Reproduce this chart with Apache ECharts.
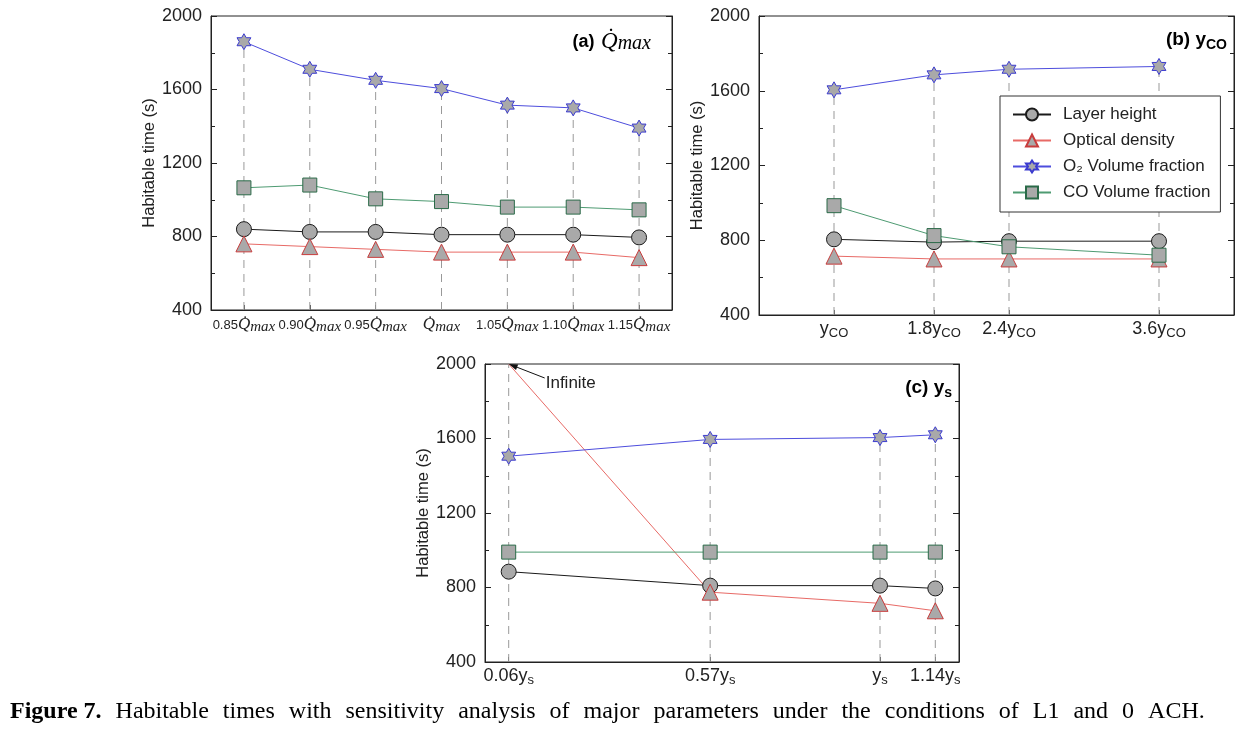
<!DOCTYPE html>
<html><head><meta charset="utf-8">
<script src="https://cdn.jsdelivr.net/npm/echarts@6/dist/echarts.min.js"></script>
<style>html,body{margin:0;padding:0;background:#fff}#c{width:1254px;height:730px}</style>
</head><body><div id="c"></div>
<script>
// ---------- data ----------
// Panel (a): Qmax
const catsA = ['0.85', '0.90', '0.95', '', '1.05', '1.10', '1.15'];
const layerA   = [840, 825, 825, 810, 810, 810, 795];
const opticalA = [760, 745, 730, 715, 715, 715, 685];
const o2A      = [1860, 1710, 1650, 1605, 1515, 1500, 1390];
const coA      = [1065, 1080, 1005, 990, 960, 960, 945];
// Panel (b): yCO
const xsB     = [1, 1.8, 2.4, 3.6];
const labelsB = ['', '1.8', '2.4', '3.6'];
const layerB   = [805, 790, 795, 795];
const opticalB = [715, 700, 700, 700];
const o2B      = [1605, 1685, 1715, 1730];
const coB      = [985, 825, 765, 720];
// Panel (c): ys
const xsC     = [0.06, 0.57, 1, 1.14];
const labelsC = ['0.06', '0.57', '', '1.14'];
const layerC   = [885, 810, 810, 795];
const opticalC = [2000, 775, 715, 675];   // first point: "Infinite"
const o2C      = [1505, 1595, 1605, 1620];
const coC      = [990, 990, 990, 990];
// y axis
const yMin = 400, yMax = 2000, yStep = 400;
const seriesNames = ['Layer height', 'Optical density', 'O\u2082 Volume fraction', 'CO Volume fraction'];
const captionBold = 'Figure 7.';
const captionText = 'Habitable times with sensitivity analysis of major parameters under the conditions of L1 and 0 ACH.';

// ---------- styles ----------
const SANS = '"Liberation Sans", Arial, sans-serif';
const SERIF = '"Liberation Serif", "DejaVu Serif", serif';
const TXT = '#222';
const FILL = '#a9a9a9';
const HEX = 'path://M100,0L128.87,50L186.6,50L157.74,100L186.6,150L128.87,150L100,200L71.13,150L13.4,150L42.26,100L13.4,50L71.13,50Z';
const ST = [
  {line: '#1a1a1a', border: '#1a1a1a', symbol: 'circle', size: 15},
  {line: '#e86a66', border: '#c83c3c', symbol: 'triangle', size: 16},
  {line: '#4d4ddd', border: '#3b3bcf', symbol: HEX, size: 16},
  {line: '#4e9b72', border: '#2a6a48', symbol: 'rect', size: 14}
];

function mk(k, data, xi, yi) {
  const s = ST[k];
  return {
    type: 'line', name: seriesNames[k], xAxisIndex: xi, yAxisIndex: yi, data: data,
    symbol: s.symbol, symbolSize: s.size, showAllSymbol: true, symbolKeepAspect: true,
    lineStyle: {color: s.line, width: 1}, clip: false,
    itemStyle: {color: FILL, borderColor: s.border, borderWidth: 1},
    emphasis: {disabled: true}, z: 3
  };
}
function pairs(xs, ys) { return xs.map((x, i) => [x, ys[i]]); }
function dropLines(xi, yi, xs, groups) {
  const tops = xs.map((_, i) => Math.max.apply(null, groups.map(g => g[i])));
  return {
    type: 'custom', xAxisIndex: xi, yAxisIndex: yi, silent: true, z: 1,
    data: xs.map((x, i) => [x, tops[i]]),
    renderItem: function (params, api) {
      const p0 = api.coord([api.value(0), yMin]);
      const p1 = api.coord([api.value(0), api.value(1)]);
      return {type: 'line', shape: {x1: p0[0], y1: p0[1], x2: p1[0], y2: p1[1]},
        style: {stroke: '#999', lineWidth: 1, lineDash: [8, 6]}};
    }
  };
}

function yAxes(gi, nameGap) {
  const base = {
    type: 'value', gridIndex: gi, min: yMin, max: yMax, interval: yStep,
    splitLine: {show: false},
    axisLine: {show: true, lineStyle: {color: '#222', width: 1}},
    axisTick: {show: true, inside: true, length: 6, lineStyle: {color: '#222'}},
    minorTick: {show: true, splitNumber: 2, length: 4, lineStyle: {color: '#222'}}
  };
  return [
    Object.assign({}, base, {position: 'left', name: 'Habitable time (s)', nameLocation: 'middle',
      nameGap: nameGap, nameTextStyle: {fontFamily: SANS, fontSize: 16.5, color: TXT},
      axisLabel: {fontFamily: SANS, fontSize: 18, color: TXT, margin: 9, formatter: v => String(v)}}),
    Object.assign({}, base, {position: 'right', axisLabel: {show: false}})
  ];
}

const subRich = {
  n: {fontFamily: SANS, fontSize: 18, color: TXT, lineHeight: 22},
  s: {fontFamily: SANS, fontSize: 13, color: TXT, lineHeight: 14, verticalAlign: 'bottom'}
};
const qRich = {
  n: {fontFamily: SANS, fontSize: 13, color: TXT, lineHeight: 20},
  q: {fontFamily: SERIF, fontStyle: 'italic', fontSize: 17, color: TXT, lineHeight: 20},
  m: {fontFamily: SERIF, fontStyle: 'italic', fontSize: 15, color: TXT, lineHeight: 15, verticalAlign: 'bottom'}
};

const chart = echarts.init(document.getElementById('c'), null, {renderer: 'canvas'});
const gridBase = {show: true, borderColor: '#222', borderWidth: 1, backgroundColor: 'transparent', outerBoundsMode: 'none', containLabel: false};

const option = {
  animation: false,
  backgroundColor: '#fff',
  grid: [
    Object.assign({left: 211, top: 16, width: 461, height: 294}, gridBase),
    Object.assign({left: 759, top: 16, width: 475, height: 299}, gridBase),
    Object.assign({left: 485, top: 364, width: 474, height: 298}, gridBase)
  ],
  xAxis: [
    {type: 'category', gridIndex: 0, data: catsA, boundaryGap: true,
      axisLine: {lineStyle: {color: '#222'}},
      axisTick: {show: true, inside: true, alignWithLabel: true, length: 5, lineStyle: {color: '#555'}},
      axisLabel: {interval: 0, margin: 5, rich: qRich,
        formatter: v => (v ? '{n|' + v + '}' : '') + '{q|Q\u0307}{m|max}'}},
    {type: 'value', gridIndex: 1, min: 0.4, max: 4.2, splitLine: {show: false},
      axisLine: {lineStyle: {color: '#222'}},
      axisTick: {show: true, inside: true, length: 5, customValues: xsB, lineStyle: {color: '#555'}},
      axisLabel: {customValues: xsB, margin: 3, rich: subRich,
        formatter: v => '{n|' + labelsB[xsB.indexOf(v)] + 'y}{s|CO}'}},
    {type: 'value', gridIndex: 2, min: 0, max: 1.2, splitLine: {show: false},
      axisLine: {lineStyle: {color: '#222'}},
      axisTick: {show: true, inside: true, length: 5, customValues: xsC, lineStyle: {color: '#555'}},
      axisLabel: {customValues: xsC, margin: 3, rich: subRich,
        formatter: v => '{n|' + labelsC[xsC.indexOf(v)] + 'y}{s|s}'}}
  ],
  yAxis: [].concat(yAxes(0, 52), yAxes(1, 53), yAxes(2, 51)),
  legend: {
    show: true, orient: 'vertical', left: 1000, top: 96,
    data: seriesNames,
    borderColor: '#333', borderWidth: 1, backgroundColor: '#fff',
    padding: [10, 10, 11, 12], itemGap: 9, itemWidth: 38, itemHeight: 15,
    textStyle: {fontFamily: SANS, fontSize: 17, color: TXT, padding: [0, 0, 0, 7]},
    selectedMode: false
  },
  series: [
    dropLines(0, 0, catsA.map((_, i) => i), [layerA, opticalA, o2A, coA]),
    mk(0, layerA, 0, 0), mk(1, opticalA, 0, 0), mk(2, o2A, 0, 0), mk(3, coA, 0, 0),
    dropLines(1, 2, xsB, [layerB, opticalB, o2B, coB]),
    mk(0, pairs(xsB, layerB), 1, 2), mk(1, pairs(xsB, opticalB), 1, 2),
    mk(2, pairs(xsB, o2B), 1, 2), mk(3, pairs(xsB, coB), 1, 2),
    dropLines(2, 4, xsC, [layerC, opticalC, o2C, coC]),
    mk(0, pairs(xsC, layerC), 2, 4),
    mk(1, pairs(xsC, opticalC).map((p, i) => i === 0 ? {value: p, symbol: 'none'} : p), 2, 4),
    mk(2, pairs(xsC, o2C), 2, 4), mk(3, pairs(xsC, coC), 2, 4)
  ],
  graphic: [
    {type: 'text', id: 'labA', x: 651, y: 42, z: 10,
      style: {text: '{b|(a)}  {q|Q\u0307}{m|max}', align: 'right', verticalAlign: 'middle',
        rich: {b: {fontFamily: SANS, fontWeight: 'bold', fontSize: 18, color: '#111', lineHeight: 24},
          q: {fontFamily: SERIF, fontStyle: 'italic', fontSize: 23, color: '#111', lineHeight: 24},
          m: {fontFamily: SERIF, fontStyle: 'italic', fontSize: 20, color: '#111', lineHeight: 20, verticalAlign: 'bottom'}}}},
    {type: 'text', id: 'labB', x: 1227, y: 40, z: 10,
      style: {text: '{b|(b) y}{s|CO}', align: 'right', verticalAlign: 'middle',
        rich: {b: {fontFamily: SANS, fontWeight: 'bold', fontSize: 19, color: '#111', lineHeight: 24},
          s: {fontFamily: SANS, fontWeight: 'bold', fontSize: 14, color: '#111', lineHeight: 16, verticalAlign: 'bottom'}}}},
    {type: 'text', id: 'labC', x: 952, y: 388, z: 10,
      style: {text: '{b|(c) y}{s|s}', align: 'right', verticalAlign: 'middle',
        rich: {b: {fontFamily: SANS, fontWeight: 'bold', fontSize: 19, color: '#111', lineHeight: 24},
          s: {fontFamily: SANS, fontWeight: 'bold', fontSize: 14, color: '#111', lineHeight: 16, verticalAlign: 'bottom'}}}},
    {type: 'text', id: 'cap', x: 10, y: 712, z: 10,
      style: {text: '{b|' + captionBold + '}{r|\u2002\u200A' + captionText.split(' ').join('\u2002\u200A') + '}',
        align: 'left', verticalAlign: 'middle',
        rich: {b: {fontFamily: SERIF, fontWeight: 'bold', fontSize: 24, color: '#000'},
          r: {fontFamily: SERIF, fontSize: 24, color: '#000'}}}}
  ]
};
chart.setOption(option);

// "Infinite" annotation pointing at the first optical-density point of panel (c)
const tip = chart.convertToPixel({xAxisIndex: 2, yAxisIndex: 4}, [xsC[0], opticalC[0]]);
const start = [tip[0] + 36, tip[1] + 14];
const dx = tip[0] - start[0], dy = tip[1] - start[1];
const L = Math.sqrt(dx * dx + dy * dy), ux = dx / L, uy = dy / L;
const bx = tip[0] - ux * 9, by = tip[1] - uy * 9;
chart.setOption({
  graphic: [
    {type: 'line', id: 'arrLine', z: 10, shape: {x1: start[0], y1: start[1], x2: bx, y2: by},
      style: {stroke: '#111', lineWidth: 1}},
    {type: 'polygon', id: 'arrHead', z: 10,
      shape: {points: [[tip[0], tip[1]], [bx - uy * 3, by + ux * 3], [bx + uy * 3, by - ux * 3]]},
      style: {fill: '#111'}},
    {type: 'text', id: 'infTxt', z: 10, x: start[0] + 1, y: start[1] + 5,
      style: {text: 'Infinite', fontFamily: SANS, fontSize: 17, fill: TXT, align: 'left', verticalAlign: 'middle'}}
  ]
});
</script></body></html>
